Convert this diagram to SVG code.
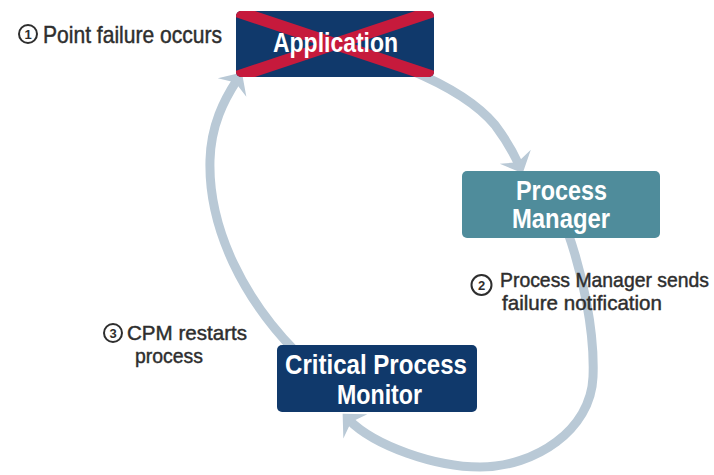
<svg xmlns="http://www.w3.org/2000/svg" width="714" height="475" viewBox="0 0 714 475">
  <style>
    .flow { fill: none; stroke: #b9c9d6; stroke-width: 9; stroke-linecap: butt; }
    .box-navy { fill: #10396b; }
    .box-teal { fill: #4f8c9b; }
    .box-text { font-family: "Liberation Sans Narrow", "Liberation Sans", Arial, sans-serif; font-weight: bold; font-size: 28px; fill: #ffffff; }
    .label { font-family: "Liberation Sans Narrow", "Liberation Sans", Arial, sans-serif; fill: #2e2e2e; stroke: #2e2e2e; stroke-width: 0.45; }
    .badge { fill: none; stroke: #2e2e2e; stroke-width: 2; }
    .badge-num { font-family: "Liberation Sans", Arial, sans-serif; font-size: 13px; font-weight: bold; fill: #2e2e2e; text-anchor: middle; }
    .cross { stroke: #c61a3c; stroke-width: 12; }
  </style>
  <defs>
    <marker id="head" viewBox="-8 -19 22 38" refX="3" refY="0" markerWidth="22" markerHeight="38" markerUnits="userSpaceOnUse" orient="auto">
      <path d="M12,0 L-6,-17 L0,0 L-6,17 Z" fill="#b9c9d6"/>
    </marker>
    <clipPath id="appClip">
      <rect x="236" y="11" width="198" height="66" rx="5"/>
    </clipPath>
  </defs>

  <rect width="714" height="475" fill="#ffffff"/>

  <!-- cycle connectors -->
  <g id="connectors">
    <path id="c-app-pm" class="flow" marker-end="url(#head)" d="M410,70 Q470,95 495,125 Q510,145 519,165"/>
    <path id="c-pm-cpm" class="flow" marker-end="url(#head)" d="M567,230 C582,272 595,330 593,377 C591,430 535,467 480,467 C435,467 375,446 349,420"/>
    <path id="c-cpm-app" class="flow" marker-end="url(#head)" d="M296,352 C245,300 208,230 210,160 C211,125 224,100 237,80"/>
  </g>

  <!-- Application (failed) -->
  <g id="node-application">
    <rect class="box-navy" x="236" y="11" width="198" height="66" rx="5"/>
    <g clip-path="url(#appClip)">
      <line class="cross" x1="236" y1="11" x2="434" y2="77"/>
      <line class="cross" x1="236" y1="77" x2="434" y2="11"/>
    </g>
    <text class="box-text" x="335.5" y="52" text-anchor="middle" textLength="125" lengthAdjust="spacingAndGlyphs">Application</text>
  </g>

  <!-- Process Manager -->
  <g id="node-process-manager">
    <rect class="box-teal" x="462" y="171" width="198" height="67" rx="5"/>
    <text class="box-text" x="561.5" y="200" text-anchor="middle" textLength="91" lengthAdjust="spacingAndGlyphs">Process</text>
    <text class="box-text" x="561" y="228" text-anchor="middle" textLength="98" lengthAdjust="spacingAndGlyphs">Manager</text>
  </g>

  <!-- Critical Process Monitor -->
  <g id="node-cpm">
    <rect class="box-navy" x="277" y="345" width="200" height="67" rx="5"/>
    <text class="box-text" x="376" y="374" text-anchor="middle" textLength="182" lengthAdjust="spacingAndGlyphs">Critical Process</text>
    <text class="box-text" x="379.5" y="404" text-anchor="middle" textLength="85" lengthAdjust="spacingAndGlyphs">Monitor</text>
  </g>

  <!-- step labels -->
  <g id="label-1">
    <circle class="badge" cx="28" cy="34" r="9"/>
    <text class="badge-num" x="28" y="38.5">1</text>
    <text class="label" x="43" y="43" font-size="24" textLength="179" lengthAdjust="spacingAndGlyphs">Point failure occurs</text>
  </g>

  <g id="label-2">
    <circle class="badge" cx="481.5" cy="285" r="10"/>
    <text class="badge-num" x="481.5" y="289.5">2</text>
    <text class="label" x="500" y="287" font-size="21" textLength="209" lengthAdjust="spacingAndGlyphs">Process Manager sends</text>
    <text class="label" x="502" y="310" font-size="21" textLength="160" lengthAdjust="spacingAndGlyphs">failure notification</text>
  </g>

  <g id="label-3">
    <circle class="badge" cx="113" cy="333" r="9"/>
    <text class="badge-num" x="113" y="337.5">3</text>
    <text class="label" x="127" y="340" font-size="21" textLength="120" lengthAdjust="spacingAndGlyphs">CPM restarts</text>
    <text class="label" x="135" y="363" font-size="21" textLength="68" lengthAdjust="spacingAndGlyphs">process</text>
  </g>
</svg>
